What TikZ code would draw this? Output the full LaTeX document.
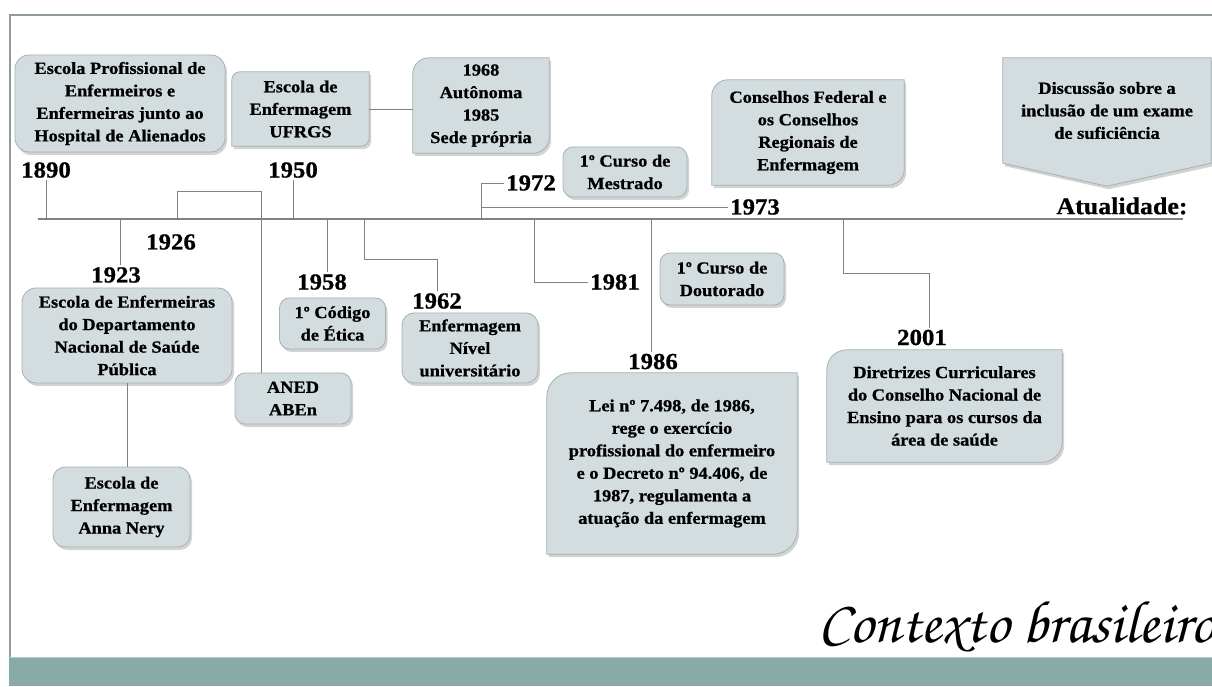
\documentclass[tikz,border=0pt]{standalone}
\usepackage{fontspec}
\setmainfont{Liberation Serif}[FakeStretch=1.08, BoldFeatures={FakeBold=0.8}]
\newfontfamily\handfont{texgyrechorus-mediumitalic.otf}
\usetikzlibrary{shadows}
\pgfdeclarelayer{bg}
\pgfsetlayers{bg,main}
\definecolor{boxc}{HTML}{D3DCDE}
\definecolor{boxline}{HTML}{A3B2B4}
\definecolor{framec}{HTML}{8E9C9C}
\definecolor{bandc}{HTML}{88AAA9}
\definecolor{bandtop}{HTML}{B8C9C8}
\definecolor{linec}{HTML}{7E8283}
\tikzset{
  txt/.style={align=center, inner sep=0pt, text=black, font=\fontsize{17}{22.5}\selectfont\bfseries},
  shad/.style={drop shadow={opacity=0.35, shadow xshift=2pt, shadow yshift=-3pt}},
  rbox/.style={txt, fill=boxc, draw=boxline, line width=0.8pt, rounded corners=#1, shad},
  rbox/.default=12pt,
  dshape/.style={fill=boxc, draw=boxline, line width=0.8pt, shad},
  year/.style={font=\fontsize{23}{26}\selectfont\bfseries, inner sep=2pt, text=black},
  conn/.style={draw=linec, line width=0.9pt},
  tline/.style={draw=linec, line width=1.2pt},
}
\newcommand\diagbox[2]{%
  \begin{pgfonlayer}{bg}
  \path[dshape] (#1.north east) -- ([yshift=#2]#1.south east)
    arc[start angle=0, end angle=-90, radius=#2] -- (#1.south west)
    -- ([yshift=-#2]#1.north west) arc[start angle=180, end angle=90, radius=#2] -- cycle;
  \end{pgfonlayer}}
\begin{document}
\begin{tikzpicture}[x=1pt, y=1pt]
\useasboundingbox (0,0) rectangle (1212,686);
% frame and band
\coordinate (fTL) at (10,671);
\coordinate (fTR) at (1212,671);
\coordinate (fBL) at (10,29);
\draw[framec, line width=1.2pt] (fTR) -- (fTL) -- (fBL);
\fill[bandc] (9,0) rectangle (1212,29);
\draw[bandtop, line width=1pt] (9,29) -- (1212,29);

% timeline
\coordinate (tlL) at (38,467);
\coordinate (tlR) at (1183,467);
\draw[tline] (tlL) -- (tlR);

% top boxes
\node[rbox=14pt, minimum width=210pt, minimum height=97pt] (b1890) at (120,582.5)
  {Escola Profissional de\\Enfermeiros e\\Enfermeiras junto ao\\Hospital de Alienados};
\node[txt, minimum width=137pt, minimum height=74pt] (bUFRGS) at (300.5,577)
  {Escola de\\Enfermagem\\UFRGS};
\diagbox{bUFRGS}{8pt}
\node[txt, minimum width=136pt, minimum height=95pt] (b1968) at (481,580.5)
  {1968\\Autônoma\\1985\\Sede própria};
\diagbox{b1968}{16pt}
\node[rbox=10pt, minimum width=124pt, minimum height=50pt] (bMest) at (625,514)
  {1º Curso de\\Mestrado};
\node[txt, minimum width=192pt, minimum height=105pt] (bCons) at (808,553.5)
  {Conselhos Federal e\\os Conselhos\\Regionais de\\Enfermagem};
\diagbox{bCons}{16pt}
\node[txt, minimum width=208pt, minimum height=105pt] (bDisc) at (1107,575.5)
  {Discussão sobre a\\inclusão de um exame\\de suficiência};
\begin{pgfonlayer}{bg}
\path[dshape] (bDisc.north west) -- (bDisc.north east) -- (bDisc.south east)
  -- ([yshift=-23pt]bDisc.south) -- (bDisc.south west) -- cycle;
\end{pgfonlayer}

% year labels
\node[year] (y1890) at (46,516) {1890};
\node[year] (y1950) at (293,516) {1950};
\node[year] (y1972) at (531,503) {1972};
\node[year] (y1973) at (755,479) {1973};
\node[year, font=\fontsize{24}{26}\selectfont\bfseries] (yAtual) at (1122,480) {Atualidade:};
\node[year] (y1923) at (116,411) {1923};
\node[year] (y1926) at (171,444) {1926};
\node[year] (y1958) at (322,404) {1958};
\node[year] (y1962) at (437,385) {1962};
\node[year] (y1981) at (615,404) {1981};
\node[year] (y1986) at (653,324.5) {1986};
\node[year] (y2001) at (922,348.5) {2001};

% lower boxes
\node[rbox=14pt, minimum width=210pt, minimum height=95pt] (b1923) at (127,350.5)
  {Escola de Enfermeiras\\do Departamento\\Nacional de Saúde\\Pública};
\node[rbox=12pt, minimum width=137pt, minimum height=80pt] (bAnna) at (121.5,179)
  {Escola de\\Enfermagem\\Anna Nery};
\node[rbox=10pt, minimum width=116pt, minimum height=51pt] (bANED) at (293,287.5)
  {ANED\\ABEn};
\node[rbox=10pt, minimum width=106pt, minimum height=51pt] (bEtica) at (332.5,362.5)
  {1º Código\\de Ética};
\node[rbox=12pt, minimum width=136pt, minimum height=70pt] (bNivel) at (470,338)
  {Enfermagem\\Nível\\universitário};
\node[rbox=10pt, minimum width=124pt, minimum height=52pt] (bDout) at (722,407)
  {1º Curso de\\Doutorado};
\node[txt, minimum width=250pt, minimum height=181pt] (b1986) at (672,222.5)
  {Lei nº 7.498, de 1986,\\rege o exercício\\profissional do enfermeiro\\e o Decreto nº 94.406, de\\1987, regulamenta a\\atuação da enfermagem};
\diagbox{b1986}{24pt}
\node[txt, minimum width=235pt, minimum height=112pt] (b2001) at (944.5,280)
  {Diretrizes Curriculares\\do Conselho Nacional de\\Ensino para os cursos da\\área de saúde};
\diagbox{b2001}{20pt}

% ticks and connectors
\coordinate (t1890) at (46,467);
\coordinate (t1923) at (120,467);
\coordinate (t1926) at (177,467);
\coordinate (t1950) at (293,467);
\coordinate (t1958) at (327,467);
\coordinate (t1962) at (364,467);
\coordinate (t1972) at (481,467);
\coordinate (t1981) at (534,467);
\coordinate (t1986) at (651,467);
\coordinate (t2001) at (843,467);
\draw[conn] (t1890) -- (t1890 |- y1890.south);
\draw[conn] (t1923) -- (t1923 |- y1923.north);
\draw[conn] (t1926) -- ++(0,28) -| ([xshift=-32pt]bANED.north);
\draw[conn] (t1950) -- (t1950 |- y1950.south);
\draw[conn] (t1958) -- (t1958 |- y1958.north);
\draw[conn] (t1962) -- ++(0,-40) -| (y1962.north);
\draw[conn] (t1972) |- (y1972.west);
\draw[conn] (t1972 |- y1973.west) -- (y1973.west);
\draw[conn] (t1981) |- (y1981.west);
\draw[conn] (t1986) -- (t1986 |- y1986.north);
\draw[conn] (t2001) -- ++(0,-54) -| ([xshift=7pt]y2001.north);
\draw[conn] (b1923.south) -- (b1923.south |- bAnna.north);
\draw[conn] (bUFRGS.east) -- (bUFRGS.east -| b1968.west);

% title
\node[anchor=base west, inner sep=0pt, font=\handfont\fontsize{60}{60}\selectfont] (ctx) at (818,44) {Contexto brasileiro};
\end{tikzpicture}
\end{document}
